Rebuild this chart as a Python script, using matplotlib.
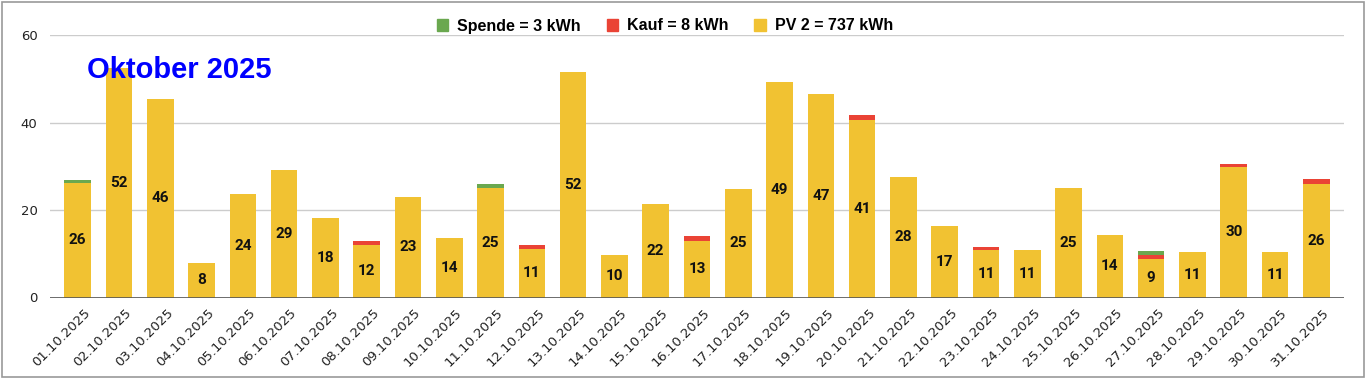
import matplotlib
matplotlib.use('Agg')
from matplotlib import pyplot as plt
from matplotlib.patches import Patch, Rectangle
from matplotlib.transforms import ScaledTranslation
import numpy as np

# Tageswerte Oktober 2025 (kWh)
days = ['%02d.10.2025' % d for d in range(1, 32)]
pv = [26.1, 52.5, 45.5, 7.8, 23.7, 29.2, 18.2, 12.1, 22.9, 13.6,
      25.0, 11.0, 51.7, 9.8, 21.5, 13.0, 24.8, 49.4, 46.6, 40.7,
      27.5, 16.4, 10.8, 10.8, 25.0, 14.2, 8.8, 10.5, 29.8, 10.5, 26.0]
kauf = [0, 0, 0, 0, 0, 0, 0, 0.9, 0, 0,
        0, 1.0, 0, 0, 0, 1.1, 0, 0, 0, 1.1,
        0, 0, 0.8, 0, 0, 0, 1.0, 0, 0.8, 0, 1.1]
spende = [0.7, 0, 0, 0, 0, 0, 0, 0, 0, 0,
          0.9, 0, 0, 0, 0, 0, 0, 0, 0, 0,
          0, 0, 0, 0, 0, 0, 0.9, 0, 0, 0, 0]
pv_labels = [26, 52, 46, 8, 24, 29, 18, 12, 23, 14, 25, 11, 52, 10, 22, 13,
             25, 49, 47, 41, 28, 17, 11, 11, 25, 14, 9, 11, 30, 11, 26]

c_pv = '#f1c232'
c_kauf = '#ea4335'
c_spende = '#6aa84f'

fig = plt.figure(figsize=(13.69, 3.8), dpi=100)
ax = fig.add_axes([50/1369, 1-297.5/380, (1344-50)/1369, (297.5-35.3)/380])

x = np.arange(len(days))
w = 0.645
kauf_arr = np.array(kauf)
ax.bar(x, pv, w, color=c_pv, zorder=2)
ax.bar(x, kauf, w, bottom=pv, color=c_kauf, zorder=2)
ax.bar(x, spende, w, bottom=np.array(pv) + kauf_arr, color=c_spende, zorder=2)

# Werte mittig in die PV-Balken
for xi, v, lab in zip(x, pv, pv_labels):
    ax.text(xi, v / 2, str(lab), ha='center', va='center', fontsize=11,
            fontweight='bold', family='Roboto', color='#111111', zorder=3)

ax.set_xlim(-0.67, 30.67)
ax.set_ylim(0, 60)
ax.set_yticks([0, 20, 40, 60])
ax.yaxis.grid(True, color='#cccccc', linewidth=1, zorder=0)
ax.axhline(0, color='#555555', linewidth=1.2, zorder=3)
for s in ax.spines.values():
    s.set_visible(False)
ax.tick_params(axis='both', length=0)
ax.tick_params(axis='y', pad=9, labelsize=9.5, labelcolor='#222222')
ax.set_xticks(x)
ax.set_xticklabels(days, rotation=45, ha='right', rotation_mode='anchor',
                   fontsize=9.5, color='#222222')
off = ScaledTranslation(6/100, -4/100, fig.dpi_scale_trans)
for lbl in ax.get_xticklabels():
    lbl.set_transform(lbl.get_transform() + off)

# Titel im Diagramm
fig.text(87/1369, 1-78/380, 'Oktober 2025', color='#0000ff', fontsize=21,
         fontweight='bold', family='Liberation Sans', ha='left', va='baseline')

# Legende
handles = [Patch(color=c_spende, label='Spende = 3 kWh'),
           Patch(color=c_kauf, label='Kauf = 8 kWh'),
           Patch(color=c_pv, label='PV 2 = 737 kWh')]
fig.legend(handles=handles, loc='center', bbox_to_anchor=(665/1369, 1-26/380),
           ncol=3, frameon=False, handlelength=0.7, handleheight=0.7,
           handletextpad=0.6, columnspacing=1.6,
           prop={'family': 'Liberation Sans', 'weight': 'bold', 'size': 11.5})

# Rahmen um die Grafik
fig.patches.append(Rectangle((2/1369, 3/380), 1362/1369, 375/380, fill=False,
                             edgecolor='#999999', linewidth=1.2,
                             transform=fig.transFigure))

plt.savefig('out.png', dpi=100)
